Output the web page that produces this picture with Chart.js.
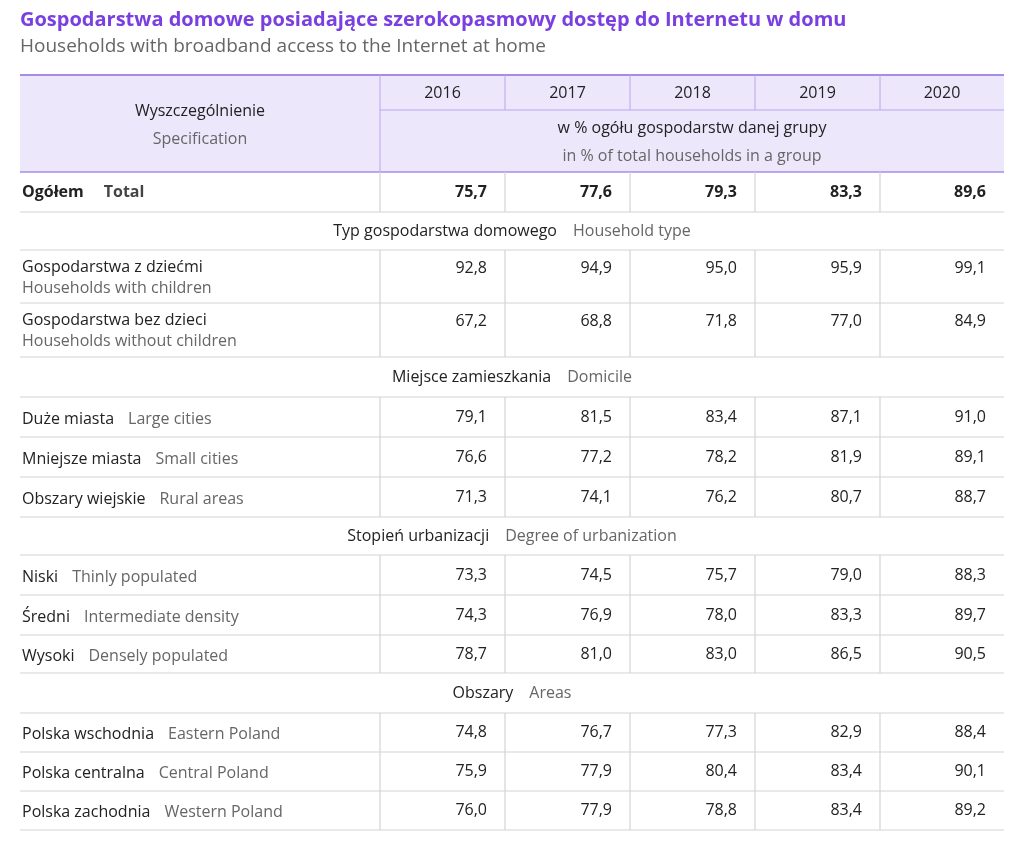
<!DOCTYPE html>
<html><head><meta charset="utf-8">
<script src="https://cdn.jsdelivr.net/npm/chart.js@4"></script>
<style>html,body{margin:0;padding:0;background:#fff}#wrap{width:1024px;height:844px}</style>
</head><body><div id="wrap"><canvas id="c"></canvas></div>
<script>
const years = ['2016','2017','2018','2019','2020'];
const rowKinds = ['total','section','two','two','section','one','one','one','section','one','one','one','section','one','one','one'];
const labelsPL = ['Ogółem','Typ gospodarstwa domowego','Gospodarstwa z dziećmi','Gospodarstwa bez dzieci','Miejsce zamieszkania','Duże miasta','Mniejsze miasta','Obszary wiejskie','Stopień urbanizacji','Niski','Średni','Wysoki','Obszary','Polska wschodnia','Polska centralna','Polska zachodnia'];
const labelsEN = ['Total','Household type','Households with children','Households without children','Domicile','Large cities','Small cities','Rural areas','Degree of urbanization','Thinly populated','Intermediate density','Densely populated','Areas','Eastern Poland','Central Poland','Western Poland'];
const v2016 = [75.7,null,92.8,67.2,null,79.1,76.6,71.3,null,73.3,74.3,78.7,null,74.8,75.9,76.0];
const v2017 = [77.6,null,94.9,68.8,null,81.5,77.2,74.1,null,74.5,76.9,81.0,null,76.7,77.9,77.9];
const v2018 = [79.3,null,95.0,71.8,null,83.4,78.2,76.2,null,75.7,78.0,83.0,null,77.3,80.4,78.8];
const v2019 = [83.3,null,95.9,77.0,null,87.1,81.9,80.7,null,79.0,83.3,86.5,null,82.9,83.4,83.4];
const v2020 = [89.6,null,99.1,84.9,null,91.0,89.1,88.7,null,88.3,89.7,90.5,null,88.4,90.1,89.2];
const series = [v2016,v2017,v2018,v2019,v2020];

// layout (pixel-unit scale space)
const colEdges = [20,380,505,630,755,880,1004];
const rowEdges = [172,212,250,303,357,397,437,477,517,555,595,635,673,713,752,791,830];
const headerTop = 75, headerMid = 110;
const F = '"Open Sans", "Noto Sans", sans-serif';

const datasets = series.map((arr,ci)=>({
  label: years[ci],
  data: arr.map((v,ri)=> ({v, ri})).filter(d=>d.v!=null).map(d=>({x: colEdges[ci+2]-18, y: rowKinds[d.ri]==='two' ? rowEdges[d.ri]+18 : (rowEdges[d.ri]+rowEdges[d.ri+1])/2, v:d.v, ri:d.ri})),
  pointRadius:0, showLine:false
}));

const tablePlugin = {
  id:'table',
  beforeDatasetsDraw(chart){
    const ctx = chart.ctx, X = chart.scales.x, Y = chart.scales.y;
    const px = v=>X.getPixelForValue(v), py = v=>Y.getPixelForValue(v);
    ctx.save();
    ctx.textBaseline='middle'; ctx.textAlign='left';
    ctx.fillStyle='#7a3fe0'; ctx.font='bold 20px '+F;
    ctx.fillText('Gospodarstwa domowe posiadające szerokopasmowy dostęp do Internetu w domu', px(20), py(20));
    ctx.fillStyle='#666'; ctx.font='19px '+F;
    ctx.fillText('Households with broadband access to the Internet at home', px(20), py(47));
    ctx.fillStyle='#ede7fc';
    ctx.fillRect(px(20), py(headerTop), px(1004)-px(20), py(172)-py(headerTop));
    ctx.strokeStyle='#a88be8'; ctx.lineWidth=2;
    ctx.beginPath(); ctx.moveTo(px(20),py(headerTop)); ctx.lineTo(px(1004),py(headerTop)); ctx.stroke();
    ctx.lineWidth=1.5;
    ctx.beginPath(); ctx.moveTo(px(20),py(172)); ctx.lineTo(px(1004),py(172)); ctx.stroke();
    ctx.lineWidth=1; ctx.strokeStyle='#b9a6ee';
    ctx.beginPath(); ctx.moveTo(px(380),py(headerMid)); ctx.lineTo(px(1004),py(headerMid));
    for(let i=1;i<colEdges.length-1;i++){ ctx.moveTo(px(colEdges[i]),py(headerTop)); ctx.lineTo(px(colEdges[i]), py(i===1?172:headerMid)); }
    ctx.stroke();
    ctx.textAlign='center'; ctx.fillStyle='#222'; ctx.font='16px '+F;
    ctx.fillText('Wyszczególnienie', px(200), py(111));
    years.forEach((y,i)=>ctx.fillText(y, px((colEdges[i+1]+colEdges[i+2])/2), py(93)));
    ctx.fillText('w % ogółu gospodarstw danej grupy', px(692), py(128));
    ctx.fillStyle='#666';
    ctx.fillText('Specification', px(200), py(139));
    ctx.fillText('in % of total households in a group', px(692), py(156));
    rowKinds.forEach((k,ri)=>{
      const t=rowEdges[ri], b=rowEdges[ri+1];
      ctx.strokeStyle='#d4d4d4'; ctx.lineWidth=1.2;
      ctx.beginPath(); ctx.moveTo(px(20),py(b)); ctx.lineTo(px(1004),py(b));
      if(k!=='section'){ for(let i=1;i<colEdges.length-1;i++){ ctx.moveTo(px(colEdges[i]),py(t)); ctx.lineTo(px(colEdges[i]),py(b)); } }
      ctx.stroke();
      ctx.textAlign='left';
      if(k==='section'){
        ctx.font='16px '+F; const pl=labelsPL[ri], en=labelsEN[ri];
        const w1=ctx.measureText(pl).width, w2=ctx.measureText(en).width, gap=16;
        const x0=px(512)-(w1+gap+w2)/2, ym=py((t+b)/2);
        ctx.fillStyle='#222'; ctx.fillText(pl,x0,ym);
        ctx.fillStyle='#666'; ctx.fillText(en,x0+w1+gap,ym);
      } else if(k==='two'){
        ctx.font='16px '+F; ctx.fillStyle='#222'; ctx.fillText(labelsPL[ri],px(22),py(t+17));
        ctx.fillStyle='#666'; ctx.fillText(labelsEN[ri],px(22),py(t+38));
      } else {
        const bold = k==='total';
        ctx.font=(bold?'bold ':'')+'16px '+F; ctx.fillStyle='#222';
        const ym=py((t+b)/2+(bold?0:2));
        ctx.fillText(labelsPL[ri],px(22),ym);
        const w=ctx.measureText(labelsPL[ri]).width;
        ctx.fillStyle=bold?'#444':'#666';
        ctx.fillText(labelsEN[ri],px(22)+w+(bold?20:14),ym);
      }
    });
    ctx.restore();
  },
  afterDatasetsDraw(chart){
    const ctx=chart.ctx; ctx.save();
    ctx.textAlign='right'; ctx.textBaseline='middle'; ctx.fillStyle='#222';
    chart.data.datasets.forEach((ds,di)=>{
      const meta=chart.getDatasetMeta(di);
      meta.data.forEach((el,i)=>{
        const d=ds.data[i];
        ctx.font=(rowKinds[d.ri]==='total'?'bold ':'')+'16px '+F;
        ctx.fillText(d.v.toFixed(1).replace('.',','), el.x, el.y);
      });
    });
    ctx.restore();
  }
};

new Chart(document.getElementById('c'),{
  type:'scatter',
  data:{datasets},
  options:{
    responsive:true, maintainAspectRatio:false, animation:false,
    layout:{padding:0},
    plugins:{legend:{display:false},tooltip:{enabled:false}},
    scales:{
      x:{type:'linear',min:0,max:1024,display:false},
      y:{type:'linear',min:0,max:844,reverse:true,display:false}
    }
  },
  plugins:[tablePlugin]
});
</script></body></html>
